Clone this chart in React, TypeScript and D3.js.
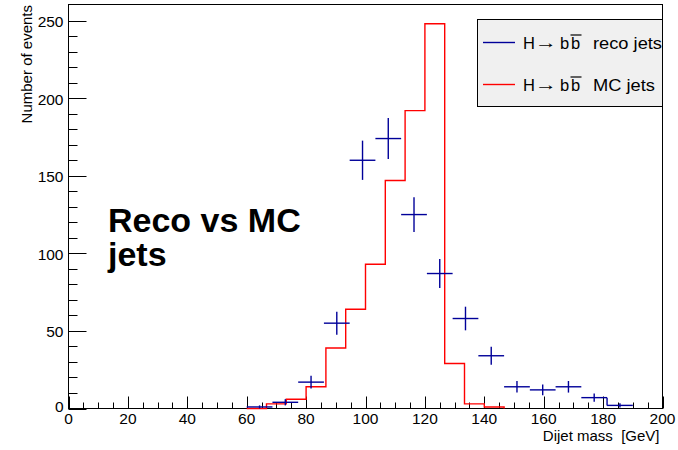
import React from 'react';
import * as d3 from 'd3';

// ---- data ----
const xTickValues = [0, 20, 40, 60, 80, 100, 120, 140, 160, 180, 200];
const yTickValues = [0, 50, 100, 150, 200, 250];
const mcLowEdge = 60;
const mcBinWidth = 200 / 30;
const mcCounts = [0, 3, 6, 14, 39, 64, 93, 147, 192, 248, 29, 3, 1];
const recoLowEdge = 60;
const recoBinWidth = 130 / 15;
const recoCounts = [1, 4, 17, 55, 160, 174, 125, 87, 58, 34, 14, 12, 14, 7, 2];
const legendNames = ['reco jets', 'MC jets'];
const xTitle = 'Dijet mass  [GeV]';
const yTitle = 'Number of events';
const noteLines = ['Reco vs MC', 'jets'];

const W = 678;
const H = 450;
const FONT = '"Liberation Sans", Arial, Helvetica, sans-serif';
const BLUE = '#000099';
const RED = '#ff0000';

export default function App() {
  const x = d3.scaleLinear().domain([0, 200]).range([68.5, 662.5]);
  const y = d3.scaleLinear().domain([0, 260.4]).range([408.5, 4.5]);
  const [x0, x1] = x.range();
  const [yb, yt] = y.range();

  const xMinor = d3.range(0, 200.001, 5);
  const yMinor = d3.range(0, 260, 10);

  let redPath = `M${x(mcLowEdge)},${y(0)}`;
  mcCounts.forEach((c, i) => {
    const a = mcLowEdge + i * mcBinWidth;
    const b = a + mcBinWidth;
    redPath += `L${x(a)},${y(c)}L${x(b)},${y(c)}`;
  });
  redPath += `L${x(mcLowEdge + mcCounts.length * mcBinWidth)},${y(0)}`;

  const crosses = recoCounts.map((c, i) => {
    const a = recoLowEdge + i * recoBinWidth;
    const b = a + recoBinWidth;
    const m = (a + b) / 2;
    const e = Math.sqrt(c);
    return { a, b, m, c, lo: Math.max(0, c - e), hi: c + e };
  });
  const n = recoCounts.length;
  const stepX = recoLowEdge + (n - 1) * recoBinWidth;

  return (
    <svg width={W} height={H} style={{ position: 'absolute', left: 0, top: 0, background: '#fff' }} fontFamily={FONT}>
      <rect x={0} y={0} width={W} height={H} fill="#fff" />
      <rect x={x0} y={yt} width={x1 - x0} height={yb - yt} fill="none" stroke="#000" strokeWidth={1} />
      {xMinor.map((v) => (
        <line key={'xm' + v} x1={Math.round(x(v)) + 0.5} x2={Math.round(x(v)) + 0.5} y1={yb} y2={yb - (v % 20 === 0 ? 12 : 6)} stroke="#000" />
      ))}
      {xTickValues.map((v) => (
        <text key={'xl' + v} x={x(v)} y={yb + 15.5} fontSize={15.5} textAnchor="middle" fill="#000">{v}</text>
      ))}
      {yMinor.map((v) => (
        <line key={'ym' + v} x1={x0} x2={x0 + (v % 50 === 0 ? 18 : 9)} y1={Math.round(y(v)) + 0.5} y2={Math.round(y(v)) + 0.5} stroke="#000" />
      ))}
      {yTickValues.map((v) => (
        <text key={'yl' + v} x={x0 - 5} y={y(v) + (v === 0 ? 3 : 6.5)} fontSize={15.5} textAnchor="end" fill="#000">{v}</text>
      ))}
      <text x={x1 - 3} y={441} fontSize={15} textAnchor="end" fill="#000" style={{ whiteSpace: 'pre' }}>{xTitle}</text>
      <text transform={`translate(32,5) rotate(-90)`} fontSize={15} textAnchor="end" fill="#000">{yTitle}</text>

      <path d={redPath} fill="none" stroke={RED} strokeWidth={1.4} />

      {crosses.map((p, i) => (
        <g key={'c' + i} stroke={BLUE} strokeWidth={1.4}>
          <line x1={x(p.a)} x2={x(p.b)} y1={y(p.c)} y2={y(p.c)} />
          <line x1={x(p.m)} x2={x(p.m)} y1={y(p.lo)} y2={y(p.hi)} />
        </g>
      ))}
      <line x1={x(stepX)} x2={x(stepX)} y1={y(recoCounts[n - 2])} y2={y(recoCounts[n - 1])} stroke={BLUE} strokeWidth={1.4} />

      <text x={108} y={232} fontSize={34} fontWeight="bold" fill="#000">
        {noteLines.map((t, i) => (
          <tspan key={'n' + i} x={108} dy={i === 0 ? 0 : 34}>{t}</tspan>
        ))}
      </text>

      <rect x={477.5} y={19.5} width={x1 - 477.5} height={87} fill="#f0f0f0" stroke="#000" strokeWidth={1} />
      {legendNames.map((name, i) => {
        const ly = 42.5 + i * 42;
        const by = ly + 6.5;
        return (
          <g key={'lg' + i}>
            <line x1={483} x2={515} y1={ly} y2={ly} stroke={i === 0 ? BLUE : RED} strokeWidth={1.4} />
            <text x={523} y={by} fontSize={16.5} fill="#000">H</text>
            <text x={535} y={by - 1} fontSize={16} fill="#000" textLength={22} lengthAdjust="spacingAndGlyphs">→</text>
            <text x={560} y={by} fontSize={16.5} fill="#000">b</text>
            <text x={571} y={by} fontSize={16.5} fill="#000">b</text>
            <line x1={570.5} x2={581.5} y1={by - 14} y2={by - 14} stroke="#000" strokeWidth={1.2} />
            <text x={593} y={by} fontSize={16.5} fill="#000" textLength={i === 0 ? 69 : 62} lengthAdjust="spacingAndGlyphs">{name}</text>
          </g>
        );
      })}
    </svg>
  );
}
